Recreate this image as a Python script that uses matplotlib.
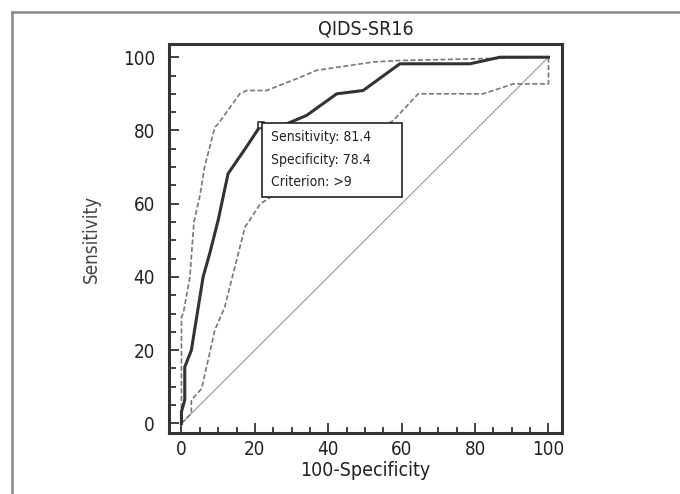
import matplotlib.pyplot as plt
from matplotlib.lines import Line2D
from matplotlib.patches import Rectangle

plt.rcParams['font.family'] = ['DejaVu Sans']
plt.rcParams['font.stretch'] = 'condensed'

# ROC curve (100-specificity, sensitivity)
roc_x = [0, 0, 0.9, 0.9, 2.7, 5.9, 7.7, 10.0, 12.7, 17.7, 21.6, 27.7, 34.1, 42.3, 49.5, 59.5, 78.6, 86.8, 100]
roc_y = [0, 3.2, 6.4, 15.4, 20.0, 40.0, 46.4, 55.5, 68.2, 75.5, 81.4, 81.4, 84.1, 90.0, 90.9, 98.2, 98.2, 100, 100]

# upper confidence bound
up_x = [0, 0, 0, 0.5, 2.3, 3.4, 5.0, 6.3, 9.1, 10.0, 15.9, 17.7, 23.2, 32.3, 36.8, 52.3, 59.5, 100]
up_y = [0, 20.0, 29.1, 30.0, 40.0, 55.0, 62.0, 70.0, 80.9, 81.8, 90.0, 90.9, 90.9, 94.5, 96.4, 98.7, 99.1, 100]

# lower confidence bound
lo_x = [0, 2.7, 2.7, 5.5, 9.1, 11.8, 17.3, 18.6, 21.5, 57.7, 64.5, 82.2, 90.4, 100, 100]
lo_y = [0, 2.7, 6.4, 9.5, 25.5, 31.8, 53.6, 55.5, 60.0, 82.7, 90.0, 90.0, 92.7, 92.7, 100]

crit_x = 21.6
crit_y = 81.4
box_lines = ['Sensitivity: 81.4', 'Specificity: 78.4', 'Criterion: >9']

fig = plt.figure(figsize=(6.8, 4.94), dpi=100)
ax = fig.add_axes([0.2485, 0.1229, 0.5775, 0.788])

ax.plot([0, 100], [0, 100], color='#999999', lw=0.8)
ax.plot(up_x, up_y, color='#777777', lw=1.2, ls=(0, (3, 1.5)))
ax.plot(lo_x, lo_y, color='#777777', lw=1.2, ls=(0, (3, 1.5)))
ax.plot(roc_x, roc_y, color='#333333', lw=2.2)
ax.plot([crit_x], [crit_y], marker='s', ms=5, mfc='white', mec='#333333', mew=1.2)

# criterion box
ax.add_patch(Rectangle((21.9, 61.7), 38.2, 20.2, facecolor='white',
                       edgecolor='#222222', lw=1.2, zorder=5))
for i, t in enumerate(box_lines):
    ax.text(24.3, 78.1 - i * 6.1, t, fontsize=10, va='center', ha='left',
            color='#222222', zorder=6)

ax.set_xlim(-3.4, 103.6)
ax.set_ylim(-2.7, 103.6)
ax.set_xticks(range(0, 101, 20))
ax.set_yticks(range(0, 101, 20))
ax.set_xticks(range(0, 101, 5), minor=True)
ax.set_yticks(range(0, 101, 5), minor=True)
ax.tick_params(which='major', direction='in', length=7, width=1.3, labelsize=13.5,
               color='#333333', labelcolor='#222222')
ax.tick_params(which='minor', direction='in', length=5, width=1.3, color='#333333')
ax.tick_params(axis='x', which='minor', length=4)
ax.tick_params(axis='x', which='major', pad=5)
ax.tick_params(axis='y', which='major', pad=10)
for s in ax.spines.values():
    s.set_linewidth(2.2)
    s.set_color('#333333')

ax.set_title('QIDS-SR16', fontsize=14, pad=7, color='#222222')
ax.set_xlabel('100-Specificity', fontsize=14, color='#222222', labelpad=1)
ax.set_ylabel('Sensitivity', fontsize=13.5, color='#444444', labelpad=16)

# frame lines at left and top of the figure
fig.add_artist(Line2D([12 / 680, 12 / 680], [0, 1 - 12 / 494], color='#888888', lw=1.8))
fig.add_artist(Line2D([12 / 680, 1], [1 - 12 / 494, 1 - 12 / 494], color='#888888', lw=1.8))

fig.savefig('out.png', dpi=100)
